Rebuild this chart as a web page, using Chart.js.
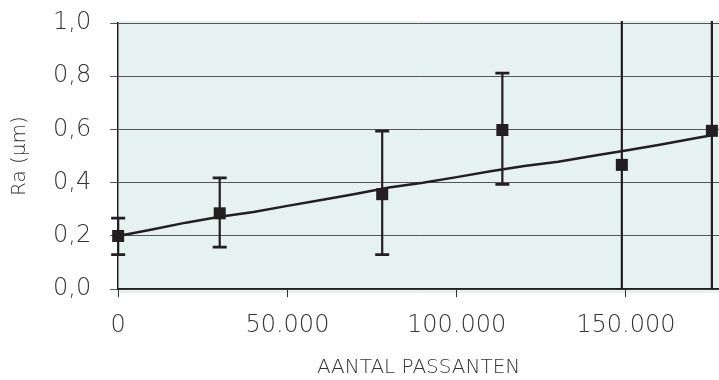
<!DOCTYPE html>
<html>
<head>
<meta charset="utf-8">
<script src="https://cdn.jsdelivr.net/npm/chart.js@4.4.1/dist/chart.umd.min.js"></script>
<style>
  html, body { margin: 0; padding: 0; background: #fff; }
  #wrap { width: 719px; height: 380px; }
</style>
</head>
<body>
<div id="wrap"><canvas id="c" width="719" height="380"></canvas></div>
<script>
// ── DATA ─────────────────────────────────────────────
const xVals   = [0, 30000, 78000, 113500, 148800, 175400];
const yMeans  = [0.200, 0.285, 0.357, 0.598, 0.467, 0.595];
const yLow    = [0.130, 0.158, 0.130, 0.394, -0.20, -0.20];
const yHigh   = [0.267, 0.418, 0.594, 0.812, 1.15, 1.15];

const trendX  = [0, 10000, 20000, 30000, 40000, 50000, 60000, 70000, 80000, 90000,
                 100000, 110000, 120000, 130000, 140000, 150000, 160000, 170000, 175400];
const trendY  = [0.200, 0.224, 0.250, 0.272, 0.290, 0.313, 0.335, 0.358, 0.382, 0.400,
                 0.421, 0.443, 0.463, 0.479, 0.500, 0.521, 0.543, 0.566, 0.578];

const xTicks  = [0, 50000, 100000, 150000];
const yTicks  = [0, 0.2, 0.4, 0.6, 0.8, 1.0];

const X_TITLE = 'AANTAL PASSANTEN';
const Y_TITLE = 'Ra (µm)';

// ── STYLE ────────────────────────────────────────────
const INK   = '#231f20';
const TXT   = '#333333';
const BG    = '#e6f2ef';
const FONT  = "'DejaVu Sans', sans-serif";

const fmtX = v => String(v).replace(/\B(?=(\d{3})+(?!\d))/g, '.');
const fmtY = v => Number(v).toFixed(1).replace('.', ',');

// ── PLUGINS ──────────────────────────────────────────
const plotBg = {
  id: 'plotBg',
  beforeDraw(chart) {
    const { ctx, chartArea: a } = chart;
    ctx.save();
    ctx.fillStyle = BG;
    ctx.fillRect(a.left, a.top - 2, chart.width - a.left, a.bottom - a.top + 6);
    ctx.restore();
  },
};

// error bars: clipped vertically to the plot, caps may stick out left
const errorBars = {
  id: 'errorBars',
  afterDatasetsDraw(chart) {
    const { ctx, chartArea: a, scales: { x, y } } = chart;
    ctx.save();
    ctx.beginPath();
    ctx.rect(a.left - 12, a.top - 2, chart.width - a.left + 12, a.bottom - a.top + 2);
    ctx.clip();
    ctx.strokeStyle = INK;
    xVals.forEach((xv, i) => {
      const px = x.getPixelForValue(xv);
      const lo = y.getPixelForValue(yLow[i]);
      const hi = y.getPixelForValue(yHigh[i]);
      ctx.lineWidth = 2.2;
      ctx.beginPath();
      ctx.moveTo(px, lo); ctx.lineTo(px, hi);
      ctx.stroke();
      ctx.lineWidth = 2.8;
      [lo, hi].forEach(py => {
        ctx.beginPath();
        ctx.moveTo(px - 7, py); ctx.lineTo(px + 7, py);
        ctx.stroke();
      });
    });
    ctx.restore();
  },
};

// ── CHART ────────────────────────────────────────────
new Chart(document.getElementById('c').getContext('2d'), {
  type: 'scatter',
  data: {
    datasets: [
      {
        label: 'meting',
        data: xVals.map((v, i) => ({ x: v, y: yMeans[i] })),
        pointStyle: 'rect',
        pointRadius: 8.5,
        backgroundColor: INK,
        borderColor: INK,
        borderWidth: 0,
        order: 0,
      },
      {
        label: 'trend',
        type: 'line',
        data: trendX.map((v, i) => ({ x: v, y: trendY[i] })),
        borderColor: INK,
        borderWidth: 2.5,
        pointRadius: 0,
        tension: 0,
        fill: false,
        order: 1,
      },
    ],
  },
  options: {
    responsive: false,
    devicePixelRatio: 1,
    animation: false,
    clip: false,
    layout: { autoPadding: false, padding: { top: 23, right: 0, bottom: 0, left: 8 } },
    plugins: { legend: { display: false }, tooltip: { enabled: false } },
    scales: {
      x: {
        type: 'linear',
        min: 0,
        max: 177500,
        afterBuildTicks: s => { s.ticks = xTicks.map(v => ({ value: v })); },
        afterFit: s => { s.paddingLeft = 0; s.paddingRight = 0; },
        grid: { drawOnChartArea: false, drawTicks: true, tickLength: 8, color: '#333', lineWidth: 1 },
        border: { color: INK, width: 1.5 },
        ticks: { callback: v => fmtX(v), color: TXT, padding: 14, maxRotation: 0,
                 font: { family: FONT, size: 24, weight: '200' } },
        title: { display: true, text: X_TITLE, color: TXT, padding: { top: 2, bottom: 0 },
                 font: { family: FONT, size: 20, weight: '200' } },
      },
      y: {
        min: 0,
        max: 1,
        afterBuildTicks: s => { s.ticks = yTicks.map(v => ({ value: v })); },
        afterFit: s => { s.paddingTop = 0; s.paddingBottom = 0; },
        grid: { color: '#555', lineWidth: 1, tickLength: 8 },
        border: { color: INK, width: 1.5 },
        ticks: { callback: v => fmtY(v), color: TXT, padding: 19,
                 font: { family: FONT, size: 24, weight: '200' } },
        title: { display: true, text: Y_TITLE, color: TXT, padding: { top: 0, bottom: 2 },
                 font: { family: FONT, size: 20, weight: '200' } },
      },
    },
  },
  plugins: [plotBg, errorBars],
});
</script>
</body>
</html>
